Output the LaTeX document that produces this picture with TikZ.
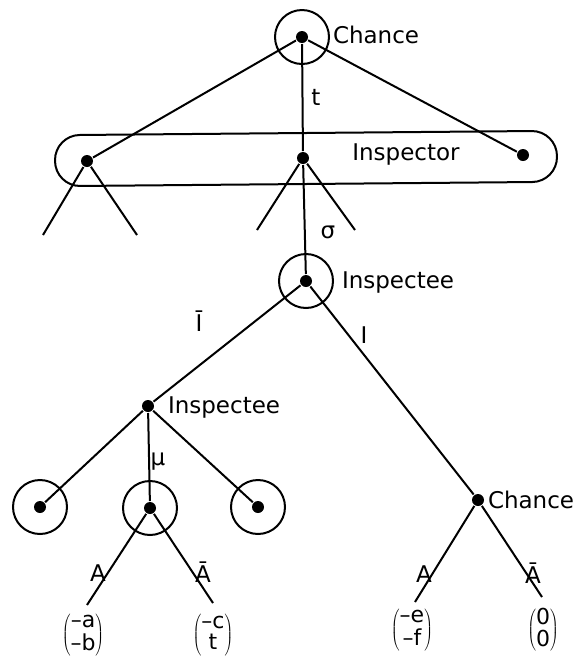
\documentclass[tikz,border=0pt]{standalone}
\usepackage{fontspec}
\setmainfont{DejaVu Sans}
\newcommand{\payvec}[2]{$\left(\vcenter{\hbox{\begin{tabular}{@{}c@{}}#1\\#2\end{tabular}}}\right)$}
\begin{document}
\begin{tikzpicture}[x=1pt,y=-1pt,line width=2pt,
    dot/.style={circle,fill=black,inner sep=0pt,minimum size=12pt},
    infoset/.style={circle,draw,inner sep=0pt,minimum size=54pt},
    lbl/.style={inner sep=1pt,font=\fontsize{23}{23}\selectfont},
    payoff/.style={inner sep=0pt,font=\fontsize{22}{20}\selectfont}]
  \useasboundingbox (0,0) rectangle (585,657);
  % root: chance
  \node[dot] (c0) at (302,37) {};
  \node[infoset] (c0set) at (c0) {};
  \node[lbl,anchor=west] (c0lbl) at (331,35) {Chance};
  % inspector's information set
  \node[dot] (i1) at (87,161) {};
  \node[dot] (i2) at (303,158) {};
  \node[dot] (i3) at (523,155) {};
  \draw[rounded corners=25pt,rotate around={0.5:(306,158)}] (55,133) rectangle (557,184);
  \node[lbl] (i2lbl) at (406,155) {Inspector};
  \coordinate (i1l) at (43,235);
  \coordinate (i1r) at (137,235);
  \coordinate (i2l) at (257,230);
  \coordinate (i2r) at (355,230);
  \draw (c0) -- (i1);
  \draw (c0) -- (i2);
  \draw (c0) -- (i3);
  \node[lbl] (tlbl) at (316,97) {t};
  \draw (i1l) -- (i1) -- (i1r);
  \draw (i2l) -- (i2) -- (i2r);
  % inspectee
  \node[dot] (s1) at (306,281) {};
  \node[infoset] (s1set) at (s1) {};
  \node[lbl,anchor=west] (s1lbl) at (340,283) {Inspectee};
  \draw (i2) -- (s1);
  \node[lbl] (siglbl) at (328,232) {σ};
  \node[dot] (p1) at (148,406) {};
  \node[lbl,anchor=west] (p1lbl) at (166,408) {Inspectee};
  \node[dot] (c2) at (478,500) {};
  \node[lbl,anchor=west] (c2lbl) at (486,500) {Chance};
  \draw (s1) -- (p1);
  \draw (s1) -- (c2);
  \node[lbl] (nilbl) at (199,321) {Ī};
  \node[lbl] (ilbl) at (364,335) {I};
  % second inspectee move
  \node[dot] (q1) at (40,507) {};
  \node[infoset] (q1set) at (q1) {};
  \node[dot] (q2) at (150,508) {};
  \node[infoset] (q2set) at (q2) {};
  \node[dot] (q3) at (258,507) {};
  \node[infoset] (q3set) at (q3) {};
  \draw (p1) -- (q1);
  \draw (p1) -- (q2);
  \draw (p1) -- (q3);
  \node[lbl] (mulbl) at (158,462) {μ};
  % payoffs
  \node[payoff] (pa) at (83,635) {\payvec{–a}{–b}};
  \node[payoff] (pc) at (213,635) {\payvec{–c}{t}};
  \node[payoff] (pe) at (412,630) {\payvec{–e}{–f}};
  \node[payoff] (p0) at (543,630) {\payvec{0}{0}};
  \coordinate (qa) at (87,605);
  \coordinate (qc) at (213,603);
  \coordinate (qe) at (415,602);
  \coordinate (q0) at (542,597);
  \draw (q2) -- (qa);
  \draw (q2) -- (qc);
  \draw (c2) -- (qe);
  \draw (c2) -- (q0);
  \node[lbl] (alblq) at (98,573) {A};
  \node[lbl] (nalblq) at (203,572) {Ā};
  \node[lbl] (alblc) at (424,574) {A};
  \node[lbl] (nalblc) at (533,573) {Ā};
\end{tikzpicture}
\end{document}
